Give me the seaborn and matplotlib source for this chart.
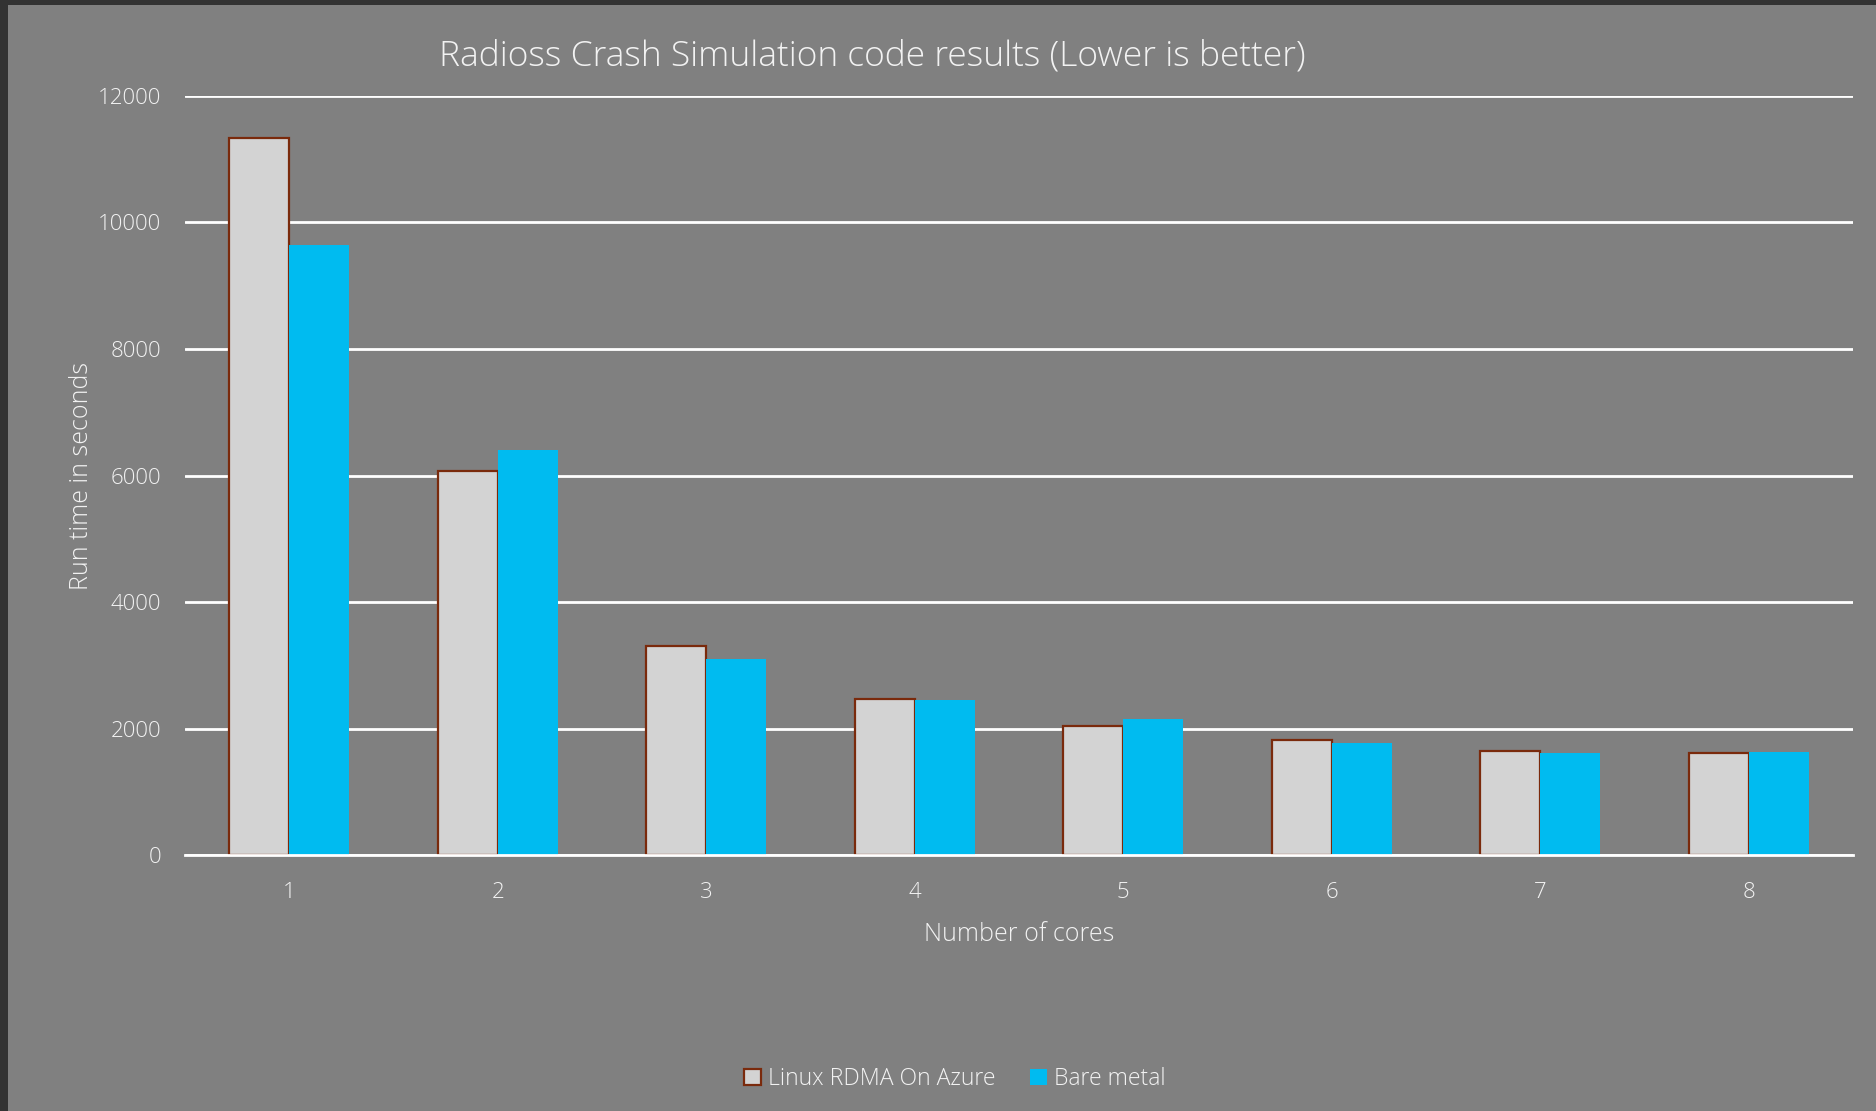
import matplotlib
matplotlib.use("Agg")
import matplotlib.pyplot as plt
import seaborn as sns
import pandas as pd
from matplotlib.patches import Rectangle

cores = ["1", "2", "3", "4", "5", "6", "7", "8"]
azure = [11326, 6074, 3304, 2463, 2050, 1827, 1642, 1621]
bare_metal = [9647, 6405, 3099, 2447, 2150, 1779, 1616, 1627]
series_names = ["Linux RDMA On Azure", "Bare metal"]
yticks = [0, 2000, 4000, 6000, 8000, 10000, 12000]

BG = "#808080"
DARK = "#333333"
TXT = "#F2F2F2"
GRAY = "#D3D3D3"
BLUE = "#00BBF0"
EDGE = "#7A2A0C"

df = pd.DataFrame({
    "cores": cores * 2,
    "time": azure + bare_metal,
    "series": [series_names[0]] * len(cores) + [series_names[1]] * len(cores),
})

sns.set_theme(style="white")
plt.rcParams["font.family"] = ["Open Sans", "DejaVu Sans"]

fig = plt.figure(figsize=(18.76, 11.11), dpi=100)
fig.patch.set_facecolor(BG)
# dark frame strips on the left and top edges
fig.patches.append(Rectangle((0, 0), 8 / 1876, 1, transform=fig.transFigure,
                             facecolor=DARK, edgecolor="none", zorder=-5))
fig.patches.append(Rectangle((0, 1 - 5 / 1111), 1, 5 / 1111, transform=fig.transFigure,
                             facecolor=DARK, edgecolor="none", zorder=-5))

ax = fig.add_axes([185 / 1876, 1 - 855.4 / 1111, (1853 - 185) / 1876, (855.4 - 95.7) / 1111])
ax.set_facecolor(BG)

sns.barplot(data=df, x="cores", y="time", hue="series", order=cores,
            hue_order=series_names, palette=[GRAY, BLUE], width=0.574,
            saturation=1, legend=False, ax=ax, zorder=3)

for p in ax.containers[0]:
    p.set_edgecolor(EDGE)
    p.set_linewidth(1.6)
for p in ax.containers[1]:
    p.set_edgecolor("none")
    p.set_linewidth(0)

ax.set_ylim(0, 12000)
ax.set_xlim(-0.5, len(cores) - 0.5)
ax.set_yticks(yticks)
ax.set_yticklabels([str(v) for v in yticks])
ax.grid(axis="y", color="white", linewidth=2, zorder=0)
ax.grid(axis="x", visible=False)
for s in ["top", "right", "left"]:
    ax.spines[s].set_visible(False)
ax.spines["bottom"].set_color("white")
ax.spines["bottom"].set_linewidth(2)
ax.spines["bottom"].set_zorder(4)
ax.set_axisbelow(True)

ax.tick_params(axis="both", length=0, colors=TXT, labelsize=16)
ax.tick_params(axis="y", pad=17)
ax.tick_params(axis="x", pad=19)
for lab in ax.get_xticklabels() + ax.get_yticklabels():
    lab.set_fontweight("light")
    lab.set_color(TXT)

ax.set_xlabel("Number of cores", color=TXT, fontsize=18, fontweight="light", labelpad=14)
ax.set_ylabel("Run time in seconds", color=TXT, fontsize=18, fontweight="light", labelpad=3)

fig.text(872 / 1876, 1 - 56 / 1111, "Radioss Crash Simulation code results (Lower is better)",
         ha="center", va="center", color=TXT, fontsize=25.5, fontweight="light")

leg = fig.legend(ax.containers, series_names, loc="center", bbox_to_anchor=(0.509, 0.0288),
                 ncol=2, frameon=False, fontsize=16.6, handlelength=0.75, handleheight=0.75,
                 handletextpad=0.3, columnspacing=1.5)
for t in leg.get_texts():
    t.set_color(TXT)
    t.set_fontweight("light")

fig.savefig("out.png", dpi=100, facecolor=fig.get_facecolor())
